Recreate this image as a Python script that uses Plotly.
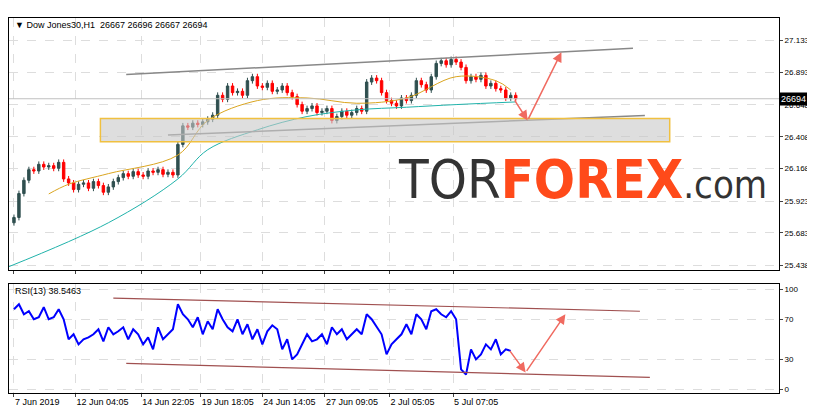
import plotly.graph_objects as go
from plotly.subplots import make_subplots

close = [25800, 25980, 26080, 26160, 26150, 26200, 26180, 26190, 26170, 26215,
         26090, 26060, 26010, 26050, 26060, 26020, 26070, 26040, 25990, 26030,
         26070, 26100, 26130, 26110, 26145, 26120, 26110, 26150, 26140, 26160,
         26125, 26140, 26120, 26350, 26490, 26480, 26510, 26500, 26520, 26540,
         26570, 26720, 26690, 26790, 26740, 26750, 26720, 26830, 26860, 26790,
         26780, 26810, 26750, 26760, 26790, 26740, 26710, 26650, 26600, 26620,
         26640, 26590, 26600, 26620, 26530, 26560, 26600, 26570, 26590, 26620,
         26600, 26820, 26850, 26830, 26740, 26680, 26660, 26640, 26700, 26680,
         26720, 26830, 26800, 26760, 26860, 26960, 26980, 26950, 26990, 26970,
         26930, 26830, 26860, 26840, 26870, 26790, 26810, 26770, 26760, 26700,
         26720, 26694]
open_ = [25760] + close[:-1]

rsi = [80, 85, 75, 78, 70, 72, 82, 70, 72, 80, 70, 50, 55, 45, 50, 52, 55, 60, 48, 62,
       55, 58, 62, 50, 60, 55, 45, 52, 40, 62, 50, 55, 60, 85, 75, 70, 62, 72, 55, 68,
       60, 80, 70, 62, 58, 70, 55, 65, 50, 60, 45, 58, 64, 60, 40, 50, 30, 35, 45, 55,
       48, 50, 55, 45, 62, 55, 60, 50, 55, 60, 55, 75, 70, 62, 55, 35, 45, 50, 55, 65,
       55, 75, 70, 60, 78, 80, 75, 72, 78, 70, 20, 15, 40, 30, 35, 45, 40, 50, 35, 40, 38.5]

# moving averages read as sparse points (candle index, price)
ma_slow_x = [-1, 19, 33, 39, 49, 59, 69, 79, 89, 101]
ma_slow_y = [25430, 25760, 26090, 26310, 26460, 26560, 26610, 26630, 26650, 26670]
ma_fast_x = [7, 11, 19, 33, 39, 49, 59, 69, 79, 89, 97, 100]
ma_fast_y = [25977, 26050, 26130, 26270, 26530, 26680, 26700, 26660, 26700, 26860, 26830, 26760]

price_ticks = [27133, 26893, 26648, 26408, 26168, 25923, 25683, 25438]
rsi_ticks = [100, 70, 30, 0]
time_pos = [0, 12.4, 25.6, 37.6, 50, 62.6, 75.6, 88.4]
time_labels = ["7 Jun 2019", "12 Jun 04:05", "14 Jun 22:05", "19 Jun 18:05",
               "24 Jun 14:05", "27 Jun 09:05", "2 Jul 05:05", "5 Jul 07:05"]

x = list(range(len(close)))
high = [max(o, c) + 22 for o, c in zip(open_, close)]
low = [min(o, c) - 22 for o, c in zip(open_, close)]

fig = make_subplots(rows=2, cols=1, shared_xaxes=True, vertical_spacing=0.039,
                    row_heights=[0.67, 0.29])

fig.add_annotation(x=0.745, y=0.57, xref="paper", yref="paper", showarrow=False, xanchor="center",
                   text="<span style='color:#333333'>TOR</span><b style='color:#ff4a1a'>FOREX</b>"
                        "<span style='color:#333333;font-size:38px'>.com</span>",
                   font=dict(size=54, family="DejaVu Sans Condensed"))

fig.add_trace(go.Candlestick(x=x, open=open_, high=high, low=low, close=close,
                             increasing=dict(line=dict(color="#2f4f4f", width=1), fillcolor="#2f4f4f"),
                             decreasing=dict(line=dict(color="#ff0000", width=1), fillcolor="#ff0000"),
                             whiskerwidth=0, showlegend=False), row=1, col=1)
fig.add_trace(go.Scatter(x=ma_slow_x, y=ma_slow_y, mode="lines", line=dict(color="#20b2aa", width=1, shape="spline"),
                         showlegend=False), row=1, col=1)
fig.add_trace(go.Scatter(x=ma_fast_x, y=ma_fast_y, mode="lines", line=dict(color="#daa520", width=1, shape="spline"),
                         showlegend=False), row=1, col=1)
fig.add_trace(go.Scatter(x=list(range(len(rsi))), y=rsi, mode="lines", line=dict(color="#0000ff", width=2),
                         showlegend=False), row=2, col=1)

# channel lines and zone
fig.add_shape(type="line", x0=22.6, y0=26876, x1=124.6, y1=27074, line=dict(color="#888888", width=1.5), row=1, col=1)
fig.add_shape(type="line", x0=31, y0=26421, x1=127, y1=26568, line=dict(color="#888888", width=1.5), row=1, col=1)
fig.add_shape(type="rect", x0=17.4, y0=26370, x1=132, y1=26546, fillcolor="rgba(200,200,200,0.6)",
              line=dict(color="#f0c040", width=1.5), row=1, col=1)
fig.add_shape(type="line", x0=20, y0=91, x1=126, y1=78, line=dict(color="#a05050", width=1.2), row=2, col=1)
fig.add_shape(type="line", x0=22.6, y0=26, x1=128, y1=12, line=dict(color="#a05050", width=1.2), row=2, col=1)

arrow = "#f06a60"
fig.add_annotation(x=110.2, y=27045, ax=103.4, ay=26531, xref="x", yref="y", axref="x", ayref="y",
                   showarrow=True, arrowhead=2, arrowsize=1.3, arrowwidth=1.5, arrowcolor=arrow, text="")
fig.add_annotation(x=103.4, y=26531, ax=100.6, ay=26693, xref="x", yref="y", axref="x", ayref="y",
                   showarrow=True, arrowhead=2, arrowsize=1.3, arrowwidth=1.5, arrowcolor=arrow, text="")
fig.add_annotation(x=111, y=75, ax=103, ay=17, xref="x2", yref="y2", axref="x2", ayref="y2",
                   showarrow=True, arrowhead=2, arrowsize=1.3, arrowwidth=1.5, arrowcolor=arrow, text="")
fig.add_annotation(x=103, y=17, ax=99.6, ay=40, xref="x2", yref="y2", axref="x2", ayref="y2",
                   showarrow=True, arrowhead=2, arrowsize=1.3, arrowwidth=1.5, arrowcolor=arrow, text="")

# current price line and label
fig.add_shape(type="line", x0=-1, x1=154, y0=26694, y1=26694, line=dict(color="#c0c0c0", width=1), row=1, col=1)
fig.add_annotation(x=1.0, y=26694, xref="paper", yref="y", text="26694", showarrow=False, xanchor="left",
                   bgcolor="black", font=dict(color="white", size=9, family="Liberation Sans"), borderpad=1)

fig.add_annotation(x=0.005, y=1.0, xref="paper", yref="paper", xanchor="left", yanchor="top", showarrow=False,
                   text="▼ Dow Jones30,H1  26667 26696 26667 26694", font=dict(size=9, color="black"))
fig.add_annotation(x=0.005, y=0.291, xref="paper", yref="paper", xanchor="left", yanchor="top", showarrow=False,
                   text="RSI(13) 38.5463", font=dict(size=9, color="black"))

fig.update_xaxes(range=[-1, 154], showgrid=True, gridcolor="#dddddd", griddash="dash",
                 showline=True, linecolor="black", mirror=True, zeroline=False,
                 tickvals=time_pos, ticktext=time_labels, ticks="outside", ticklen=3, tickangle=0,
                 tickfont=dict(size=9, color="black", family="Liberation Sans"), rangeslider_visible=False)
fig.update_xaxes(ticklabelposition="outside right", row=2, col=1)
fig.update_yaxes(side="right", showgrid=True, gridcolor="#dddddd", griddash="dash",
                 showline=True, linecolor="black", mirror=True, zeroline=False,
                 ticks="outside", ticklen=3, tickfont=dict(size=8, color="black", family="Liberation Sans"))
fig.update_yaxes(range=[25408, 27302], tickvals=price_ticks, row=1, col=1)
fig.update_yaxes(range=[-3.5, 105], tickvals=rsi_ticks, row=2, col=1)

fig.update_layout(width=815, height=419, margin=dict(l=1, r=44, t=10, b=34),
                  plot_bgcolor="white", paper_bgcolor="white",
                  font=dict(family="Liberation Sans"))

fig.write_html("out.html")
